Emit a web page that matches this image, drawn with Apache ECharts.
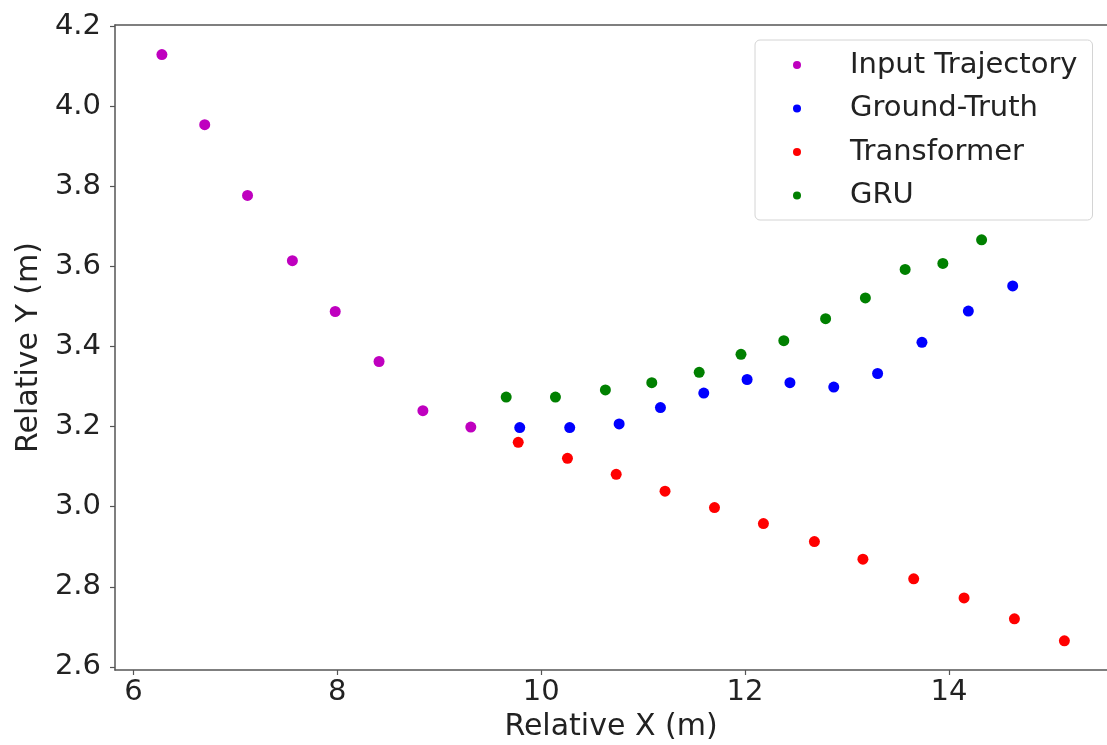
<!DOCTYPE html>
<html>
<head>
<meta charset="utf-8">
<script src="https://cdn.jsdelivr.net/npm/echarts@6/dist/echarts.min.js"></script>
<style>
html,body{margin:0;padding:0;background:#fff;}
#chart{width:1107px;height:745px;}
</style>
</head>
<body>
<div id="chart"></div>
<script>
// Data
const inputX = [6.28, 6.70, 7.12, 7.56, 7.98, 8.41, 8.84, 9.31];
const inputY = [4.13, 3.955, 3.778, 3.615, 3.488, 3.363, 3.24, 3.199];
const gtX = [9.79, 10.28, 10.765, 11.17, 11.595, 12.02, 12.44, 12.87, 13.30, 13.735, 14.19, 14.625];
const gtY = [3.198, 3.198, 3.207, 3.248, 3.284, 3.318, 3.31, 3.299, 3.333, 3.411, 3.489, 3.552];
const trX = [9.775, 10.258, 10.736, 11.215, 11.70, 12.18, 12.68, 13.156, 13.654, 14.148, 14.642, 15.132];
const trY = [3.161, 3.121, 3.081, 3.039, 2.998, 2.958, 2.913, 2.869, 2.82, 2.772, 2.72, 2.665];
const gruX = [9.657, 10.14, 10.63, 11.085, 11.55, 11.96, 12.38, 12.79, 13.18, 13.57, 13.94, 14.32];
const gruY = [3.274, 3.274, 3.292, 3.31, 3.336, 3.381, 3.415, 3.47, 3.522, 3.593, 3.608, 3.667];
const seriesNames = ['Input Trajectory', 'Ground-Truth', 'Transformer', 'GRU'];
const xTicks = [6, 8, 10, 12, 14];
const yTicks = [2.6, 2.8, 3.0, 3.2, 3.4, 3.6, 3.8, 4.0, 4.2];

const zip = (xs, ys) => xs.map((x, i) => [x, ys[i]]);
const colors = ['#bf00bf', '#0000ff', '#ff0000', '#008000'];
const allData = [zip(inputX, inputY), zip(gtX, gtY), zip(trX, trY), zip(gruX, gruY)];

const FONT = 'DejaVu Sans';
const X_MIN = 5.82, X_MAX = 15.55;
const chart = echarts.init(document.getElementById('chart'), null, {renderer: 'canvas'});
chart.setOption({
  animation: false,
  backgroundColor: '#ffffff',
  grid: {left: 115, right: 0, top: 25, bottom: 75, containLabel: false, outerBoundsMode: 'none', show: false},
  xAxis: [{
    type: 'value', min: X_MIN, max: X_MAX,
    name: 'Relative X (m)', nameLocation: 'middle', nameGap: 42,
    nameTextStyle: {fontFamily: FONT, fontSize: 30, color: '#222'},
    axisLine: {show: true, lineStyle: {color: '#555', width: 1.5}},
    axisTick: {show: true, inside: false, length: 5, lineStyle: {color: '#555', width: 1.2}, customValues: xTicks},
    axisLabel: {fontFamily: FONT, fontSize: 29, color: '#222', margin: 8, customValues: xTicks,
      formatter: v => String(v)},
    splitLine: {show: false}
  }, {
    type: 'value', position: 'top', min: X_MIN, max: X_MAX,
    axisLine: {show: true, onZero: false, lineStyle: {color: '#555', width: 1.5}},
    axisTick: {show: false}, axisLabel: {show: false}, splitLine: {show: false}
  }],
  yAxis: {
    type: 'value', min: 2.592, max: 4.204,
    name: 'Relative Y (m)', nameLocation: 'middle', nameGap: 62,
    nameTextStyle: {fontFamily: FONT, fontSize: 30, color: '#222'},
    axisLine: {show: true, lineStyle: {color: '#555', width: 1.5}},
    axisTick: {show: true, inside: false, length: 5, lineStyle: {color: '#555', width: 1.2}, customValues: yTicks},
    axisLabel: {fontFamily: FONT, fontSize: 29, color: '#222', margin: 14, customValues: yTicks,
      formatter: v => v.toFixed(1)},
    splitLine: {show: false}
  },
  legend: {
    show: true, orient: 'vertical', left: 755, top: 40,
    data: seriesNames,
    icon: 'circle', itemWidth: 8, itemHeight: 8, itemGap: 13.5,
    padding: [10, 15, 9.5, 38],
    backgroundColor: '#ffffff', borderColor: '#d4d4d4', borderWidth: 1, borderRadius: 5,
    textStyle: {fontFamily: FONT, fontSize: 29, color: '#222', lineHeight: 30, padding: [0, 0, 0, 44]}
  },
  series: seriesNames.map((n, i) => ({
    name: n, type: 'scatter', data: allData[i], xAxisIndex: 0,
    symbol: 'circle', symbolSize: 11,
    itemStyle: {color: colors[i], opacity: 1},
    emphasis: {disabled: true}
  }))
});
</script>
</body>
</html>
